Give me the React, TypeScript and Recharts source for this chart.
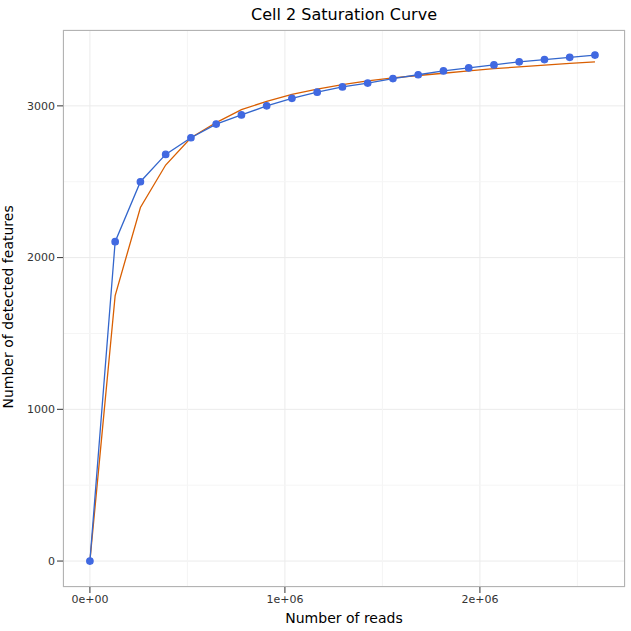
import { ComposedChart, Line, XAxis, YAxis, CartesianGrid, ReferenceLine } from 'recharts'

const reads = [
  0, 129500, 259000, 388500, 518000, 647500, 777000, 906500, 1036000, 1165500, 1295000,
  1424500, 1554000, 1683500, 1813000, 1942500, 2072000, 2201500, 2331000, 2460500, 2590000,
]
const observed = [
  0, 2105, 2500, 2680, 2790, 2880, 2940, 3000, 3050, 3090, 3125,
  3150, 3180, 3205, 3230, 3250, 3270, 3290, 3305, 3320, 3335,
]
const fitted = [
  0, 1750, 2330, 2610, 2790, 2890, 2975, 3030, 3075, 3110, 3140,
  3165, 3185, 3200, 3215, 3230, 3245, 3257, 3268, 3280, 3290,
]
const xTicks = [0, 1000000, 2000000]
const yTicks = [0, 1000, 2000, 3000]
const xMinor = [500000, 1500000, 2500000]
const yMinor = [500, 1500, 2500, 3500]

const data = reads.map((x, i) => ({ x, obs: observed[i], fit: fitted[i] }))
const font = 'DejaVu Sans, sans-serif'

export default function App() {
  return (
    <div style={{ position: 'absolute', left: 0, top: 0, width: 631, height: 631, background: '#fff', fontFamily: font }}>
      <div style={{ position: 'absolute', top: 5, left: 63, width: 562, textAlign: 'center', fontSize: 16 }}>
        Cell 2 Saturation Curve
      </div>
      <ComposedChart width={631} height={631} data={data} margin={{ top: 30, right: 6, left: 8, bottom: 4 }}>
        <CartesianGrid stroke="#ebebeb" />
        {xMinor.map((v) => <ReferenceLine key={'x' + v} x={v} stroke="#f5f5f5" />)}
        {yMinor.map((v) => <ReferenceLine key={'y' + v} y={v} stroke="#f5f5f5" />)}
        <XAxis
          dataKey="x"
          type="number"
          domain={[-138000, 2744000]}
          ticks={xTicks}
          allowDataOverflow
          height={40}
          tickFormatter={(v) => (v === 0 ? '0e+00' : `${v / 1e6}e+06`)}
          tick={{ fontSize: 11, fill: '#333' }}
          tickLine={{ stroke: '#333' }}
          axisLine={false}
          label={{ value: 'Number of reads', position: 'insideBottom', offset: 4, fontSize: 14, fill: '#000' }}
        />
        <YAxis
          type="number"
          domain={[-171, 3500]}
          ticks={yTicks}
          allowDataOverflow
          width={55}
          tick={{ fontSize: 11, fill: '#333' }}
          tickLine={{ stroke: '#333' }}
          axisLine={false}
          label={{ value: 'Number of detected features', angle: -90, position: 'insideLeft', offset: 0, dy: 100, fontSize: 14, fill: '#000' }}
        />
        <Line dataKey="fit" stroke="#d95f02" strokeWidth={1.3} dot={false} isAnimationActive={false} />
        <Line
          dataKey="obs"
          stroke="#3366cc"
          strokeWidth={1.3}
          dot={{ r: 3.2, fill: '#4169e1', stroke: '#4169e1' }}
          isAnimationActive={false}
        />
      </ComposedChart>
      <div style={{ position: 'absolute', left: 63, top: 30, width: 562, height: 557, border: '1px solid #b3b3b3', boxSizing: 'border-box', pointerEvents: 'none' }} />
    </div>
  )
}
